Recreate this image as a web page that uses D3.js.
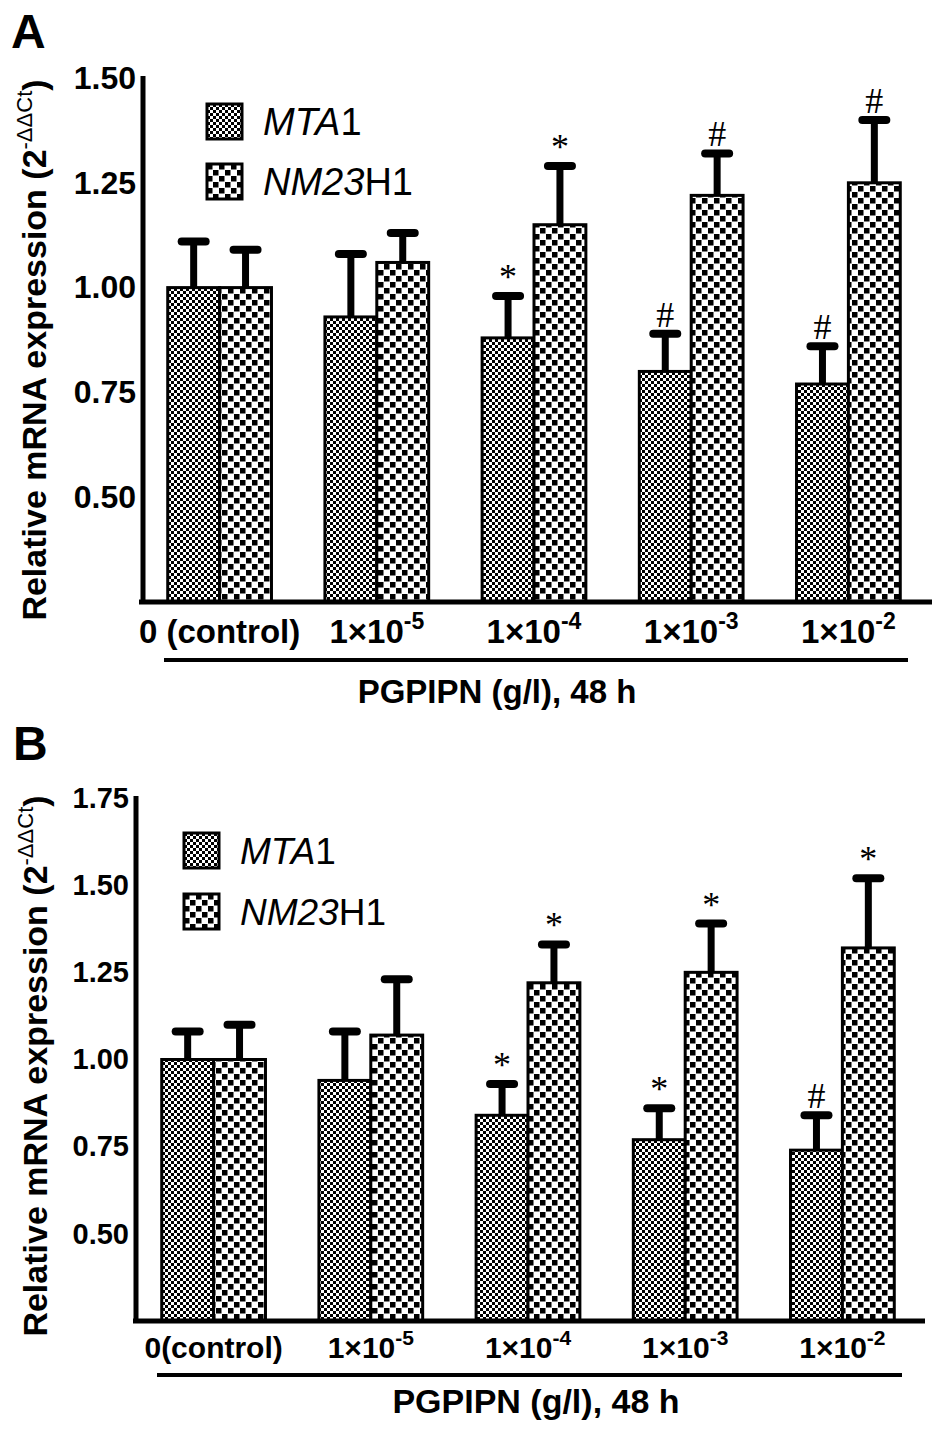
<!DOCTYPE html>
<html>
<head>
<meta charset="utf-8">
<script src="https://cdnjs.cloudflare.com/ajax/libs/d3/7.8.5/d3.min.js"></script>
<style>
body { margin: 0; background: #fff; }
text { font-family: "Liberation Sans", Arial, sans-serif; }
</style>
</head>
<body>
<script>
// ---- data ----
var series = ["MTA1", "NM23H1"];
var seriesItalic = ["MTA", "NM23"];
var seriesPlain = ["1", "H1"];
var doseExp = ["", "-5", "-4", "-3", "-2"];
var doseBaseA = ["0 (control)", "1×10", "1×10", "1×10", "1×10"];
var doseBaseB = ["0(control)", "1×10", "1×10", "1×10", "1×10"];

// panel A
var ticksA = [0.50, 0.75, 1.00, 1.25, 1.50];
var mtaA = [1.00, 0.93, 0.88, 0.80, 0.77];
var mtaErrA = [0.11, 0.15, 0.10, 0.09, 0.09];
var nmA = [1.00, 1.06, 1.15, 1.22, 1.25];
var nmErrA = [0.09, 0.07, 0.14, 0.10, 0.15];
var mtaSigA = ["", "", "*", "#", "#"];
var nmSigA = ["", "", "*", "#", "#"];

// panel B
var ticksB = [0.50, 0.75, 1.00, 1.25, 1.50, 1.75];
var mtaB = [1.00, 0.94, 0.84, 0.77, 0.74];
var mtaErrB = [0.08, 0.14, 0.09, 0.09, 0.10];
var nmB = [1.00, 1.07, 1.22, 1.25, 1.32];
var nmErrB = [0.10, 0.16, 0.11, 0.14, 0.20];
var mtaSigB = ["", "", "*", "*", "#"];
var nmSigB = ["", "", "*", "*", "*"];

var svg = d3.select("body").append("svg")
    .attr("width", 945)
    .attr("height", 1435);

// checker fills
var defs = svg.append("defs");
var fine = defs.append("pattern").attr("id", "pMTA")
    .attr("patternUnits", "userSpaceOnUse").attr("width", 6).attr("height", 6);
fine.append("rect").attr("width", 6).attr("height", 6).attr("fill", "#fff");
fine.append("rect").attr("width", 3).attr("height", 3).attr("fill", "#000");
fine.append("rect").attr("x", 3).attr("y", 3).attr("width", 3).attr("height", 3).attr("fill", "#000");

var coarse = defs.append("pattern").attr("id", "pNM")
    .attr("patternUnits", "userSpaceOnUse").attr("width", 12).attr("height", 12);
coarse.append("rect").attr("width", 12).attr("height", 12).attr("fill", "#fff");
coarse.append("rect").attr("width", 5.5).attr("height", 5.5).attr("fill", "#000");
coarse.append("rect").attr("x", 6).attr("y", 6).attr("width", 5.5).attr("height", 5.5).attr("fill", "#000");

var fills = { "MTA1": "url(#pMTA)", "NM23H1": "url(#pNM)" };

var panels = [
  { letter: "A", letterPos: [11, 48], axisX: 143, yRange: [602, 78], domain: [0.25, 1.50],
    xRange: [141, 927], axisEnds: [139, 932], tickFont: 32,
    labels: doseBaseA, labelFont: 33, labelY: 643, supFont: 23, supRise: 14,
    rule: [164, 908, 660], title: [497, 703, 33], yTitle: [46, 350, 34],
    legend: [207, 104, 60, 35, 263, 38],
    ticks: ticksA, mean: [mtaA, nmA], err: [mtaErrA, nmErrA], sig: [mtaSigA, nmSigA] },
  { letter: "B", letterPos: [13, 760], axisX: 136, yRange: [1321, 798], domain: [0.25, 1.75],
    xRange: [135, 921], axisEnds: [133, 925], tickFont: 29,
    labels: doseBaseB, labelFont: 30, labelY: 1358, supFont: 21, supRise: 13,
    rule: [157, 902, 1375], title: [536, 1413, 34], yTitle: [47, 1066, 34],
    legend: [184, 833, 61, 35, 240, 37],
    ticks: ticksB, mean: [mtaB, nmB], err: [mtaErrB, nmErrB], sig: [mtaSigB, nmSigB] }
];

panels.forEach(drawPanel);

function drawPanel(p) {
  var g = svg.append("g");

  var y = d3.scaleLinear().domain(p.domain).range(p.yRange);
  var x0 = d3.scaleBand().domain(d3.range(p.labels.length))
      .range(p.xRange).paddingInner(0.34).paddingOuter(0.17);
  var x1 = d3.scaleBand().domain(series).range([0, x0.bandwidth()]);

  var rows = [];
  series.forEach(function (s, si) {
    p.mean[si].forEach(function (v, gi) {
      rows.push({ s: s, g: gi, v: v, e: p.err[si][gi], sig: p.sig[si][gi] });
    });
  });
  var cx = function (d) { return x0(d.g) + x1(d.s) + x1.bandwidth() / 2; };

  // bars
  g.selectAll("rect.bar").data(rows).enter().append("rect")
      .attr("class", "bar")
      .attr("x", function (d) { return x0(d.g) + x1(d.s); })
      .attr("y", function (d) { return y(d.v); })
      .attr("width", x1.bandwidth())
      .attr("height", function (d) { return y(p.domain[0]) - y(d.v); })
      .attr("fill", function (d) { return fills[d.s]; })
      .attr("stroke", "#000")
      .attr("stroke-width", 3);

  // error bars (upper only)
  g.selectAll("line.err").data(rows).enter().append("line")
      .attr("x1", cx).attr("x2", cx)
      .attr("y1", function (d) { return y(d.v); })
      .attr("y2", function (d) { return y(d.v + d.e); })
      .attr("stroke", "#000").attr("stroke-width", 7);
  g.selectAll("line.cap").data(rows).enter().append("line")
      .attr("x1", function (d) { return cx(d) - 12; })
      .attr("x2", function (d) { return cx(d) + 12; })
      .attr("y1", function (d) { return y(d.v + d.e); })
      .attr("y2", function (d) { return y(d.v + d.e); })
      .attr("stroke", "#000").attr("stroke-width", 8)
      .attr("stroke-linecap", "round");

  // significance marks
  g.selectAll("text.sig").data(rows.filter(function (d) { return d.sig; })).enter().append("text")
      .attr("x", cx)
      .attr("y", function (d) { return y(d.v + d.e) - 7; })
      .attr("text-anchor", "middle")
      .style("font-family", "'Liberation Serif', 'Times New Roman', serif")
      .style("font-size", "36px")
      .text(function (d) { return d.sig; });

  // y axis
  var yAxis = d3.axisLeft(y).tickValues(p.ticks).tickSize(0).tickSizeOuter(0)
      .tickPadding(7).tickFormat(d3.format(".2f"));
  var ya = g.append("g").attr("transform", "translate(" + p.axisX + ",0)").call(yAxis);
  ya.select(".domain").attr("stroke-width", 5).attr("d", "M0," + (p.yRange[0] + 2) + "V" + (p.yRange[1] - 2));
  ya.selectAll("text").style("font-size", p.tickFont + "px").style("font-weight", "bold")
      .style("font-family", "'Liberation Sans', Arial, sans-serif").attr("fill", "#000");

  // x axis
  var xAxis = d3.axisBottom(x0).tickSize(0).tickSizeOuter(0).tickFormat("");
  var xa = g.append("g").attr("transform", "translate(0," + p.yRange[0] + ")").call(xAxis);
  xa.select(".domain").attr("stroke-width", 5)
      .attr("d", "M" + p.axisEnds[0] + ",0H" + p.axisEnds[1]);
  xa.selectAll(".tick text").remove();
  xa.selectAll(".tick").append("text")
      .attr("y", p.labelY - p.yRange[0])
      .attr("text-anchor", "middle")
      .attr("fill", "#000")
      .style("font-size", p.labelFont + "px").style("font-weight", "bold")
      .each(function (i) {
        var t = d3.select(this);
        t.append("tspan").text(p.labels[i]);
        if (doseExp[i]) {
          t.append("tspan").attr("dy", -p.supRise).style("font-size", p.supFont + "px").text(doseExp[i]);
        }
      });

  // rule and axis title
  g.append("line")
      .attr("x1", p.rule[0]).attr("x2", p.rule[1])
      .attr("y1", p.rule[2]).attr("y2", p.rule[2])
      .attr("stroke", "#000").attr("stroke-width", 4);
  g.append("text")
      .attr("x", p.title[0]).attr("y", p.title[1])
      .attr("text-anchor", "middle")
      .style("font-size", p.title[2] + "px").style("font-weight", "bold")
      .text("PGPIPN (g/l), 48 h");

  var yt = g.append("text")
      .attr("transform", "translate(" + p.yTitle[0] + "," + p.yTitle[1] + ") rotate(-90)")
      .attr("text-anchor", "middle")
      .style("font-size", p.yTitle[2] + "px").style("font-weight", "bold");
  yt.append("tspan").text("Relative mRNA expression (2");
  yt.append("tspan").attr("dy", -14).style("font-size", "22px").style("font-weight", "normal").text("-ΔΔCt");
  yt.append("tspan").attr("dy", 14).text(")");

  // legend
  var lg = g.selectAll("g.leg").data(series).enter().append("g")
      .attr("transform", function (d, i) {
        return "translate(" + p.legend[0] + "," + (p.legend[1] + i * p.legend[2]) + ")";
      });
  lg.append("rect")
      .attr("width", p.legend[3]).attr("height", p.legend[3])
      .attr("fill", function (d) { return fills[d]; })
      .attr("stroke", "#000").attr("stroke-width", 3);
  var lt = lg.append("text")
      .attr("x", p.legend[4] - p.legend[0])
      .attr("y", p.legend[3] - 4)
      .style("font-size", p.legend[5] + "px");
  lt.append("tspan").style("font-style", "italic").text(function (d, i) { return seriesItalic[i]; });
  lt.append("tspan").text(function (d, i) { return seriesPlain[i]; });

  // panel letter
  g.append("text")
      .attr("x", p.letterPos[0]).attr("y", p.letterPos[1])
      .style("font-size", "48px").style("font-weight", "bold")
      .text(p.letter);
}
</script>
</body>
</html>
